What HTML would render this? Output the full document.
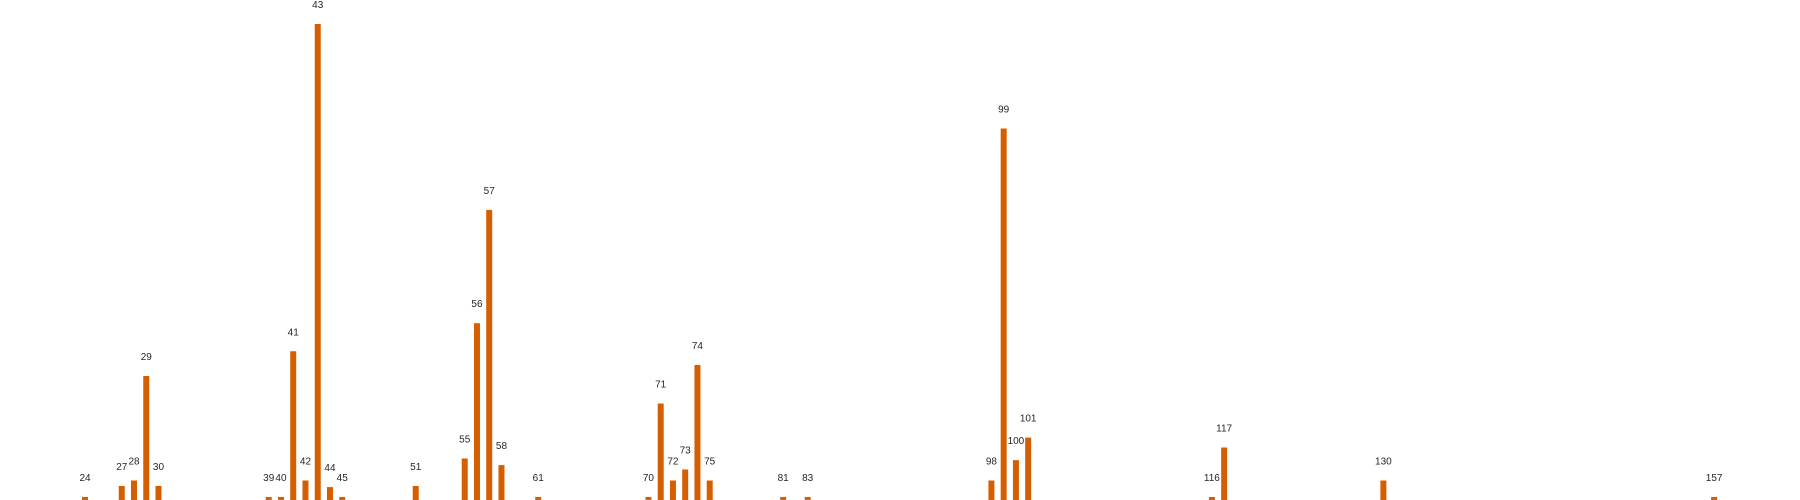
<!DOCTYPE html>
<html><head><meta charset="utf-8">
<style>
html,body{margin:0;padding:0;background:#fff;}
svg{display:block;}
text{font-family:"Liberation Sans",sans-serif;font-size:10px;fill:#262626;}
</style></head>
<body>
<svg id="chart" width="1800" height="500" viewBox="0 0 1800 500" xmlns="http://www.w3.org/2000/svg">
<g id="bars"></g>
<g id="labels"></g>
</svg>
<script>
const categories = [24,27,28,29,30,39,40,41,42,43,44,45,51,55,56,57,58,61,70,71,72,73,74,75,81,83,98,99,100,101,116,117,130,157];
const values = [1,3,4,23,3,1,1,27.5,4,87,2.8,1,3,8,32.6,53.2,6.8,1,1,18,4,6,25,4,1,1,4,68,7.7,11.8,1,10,4,1];

const NS = 'http://www.w3.org/2000/svg';
const baseY = 500;
function xScale(c){ return 85.0 + (c - 24) * 12.249; }
function yScale(v){ return baseY - (5.5 * v - 2.5); }
const barW = 6;

const gb = document.getElementById('bars');
const gl = document.getElementById('labels');
categories.forEach(function(c, i){
  const v = values[i];
  const cx = xScale(c);
  const top = yScale(v);
  const r = document.createElementNS(NS, 'rect');
  r.setAttribute('x', (cx - barW / 2).toFixed(2));
  r.setAttribute('y', top.toFixed(2));
  r.setAttribute('width', barW);
  r.setAttribute('height', (baseY - top).toFixed(2));
  r.setAttribute('fill', '#d55e00');
  
  
  gb.appendChild(r);
  const t = document.createElementNS(NS, 'text');
  t.setAttribute('x', cx.toFixed(2));
  t.setAttribute('y', (top - 16).toFixed(2));
  t.setAttribute('text-anchor', 'middle');
  t.textContent = String(c);
  
  
  gl.appendChild(t);
});
</script>
</body></html>
